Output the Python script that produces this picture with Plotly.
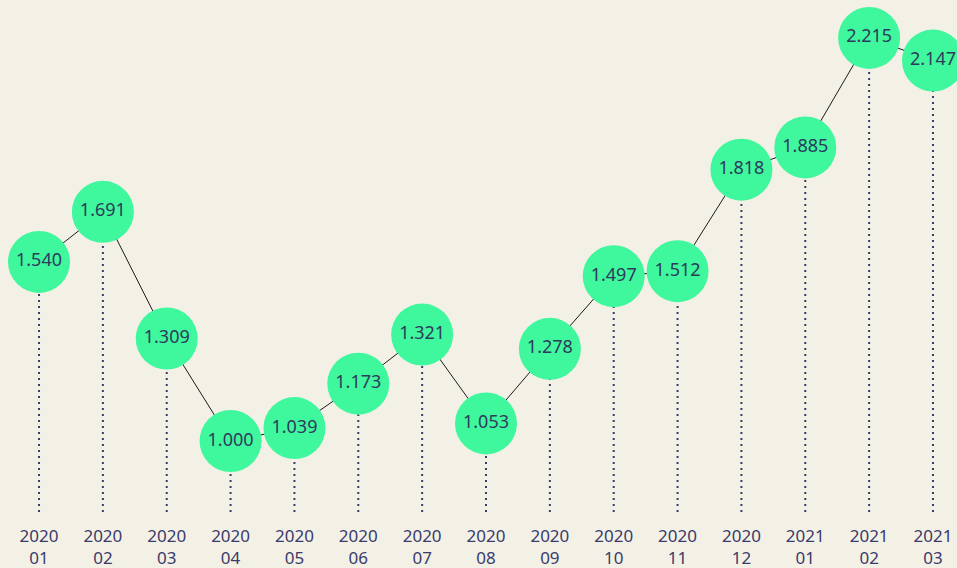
import plotly.graph_objects as go

years = ["2020"] * 12 + ["2021"] * 3
months = ["01", "02", "03", "04", "05", "06", "07", "08", "09", "10", "11", "12", "01", "02", "03"]
values = [1.540, 1.691, 1.309, 1.000, 1.039, 1.173, 1.321, 1.053, 1.278, 1.497, 1.512, 1.818, 1.885, 2.215, 2.147]
labels = [f"{v:.3f}" for v in values]

x = list(range(len(values)))
ticktext = [f"{y}<br>{m}" for y, m in zip(years, months)]

base = 0.786
dx, dy = [], []
for xi, v in zip(x, values):
    dx += [xi, xi, None]
    dy += [base, v, None]

fig = go.Figure()
fig.add_trace(go.Scatter(x=dx, y=dy, mode="lines",
                         line=dict(color="#3b3a6b", width=2, dash="2px,4px"),
                         hoverinfo="skip", showlegend=False))
fig.add_trace(go.Scatter(x=x, y=values, mode="lines+markers+text",
                         text=labels, textposition="middle center",
                         textfont=dict(size=18, color="#2e3b5c", family="Noto Sans"),
                         line=dict(color="#1a1a1a", width=1),
                         marker=dict(size=62, color="#3ff79c", line=dict(width=0)),
                         cliponaxis=False,
                         showlegend=False))

fig.update_layout(
    width=957, height=568,
    margin=dict(l=0, r=0, t=0, b=56),
    paper_bgcolor="#f3f1e6", plot_bgcolor="#f3f1e6",
    xaxis=dict(range=[-0.611, 14.376], tickvals=x, ticktext=ticktext,
               showgrid=False, zeroline=False, showline=False, ticks="",
               ticklabelstandoff=12,
               tickfont=dict(size=17, color="#3b3a6b", family="Noto Sans")),
    yaxis=dict(range=[0.786, 2.3295], visible=False, showgrid=False, zeroline=False),
)

fig.write_html("out.html", config={"displayModeBar": False},
               post_script="document.body.style.margin='0';document.body.style.background='#f3f1e6';")
